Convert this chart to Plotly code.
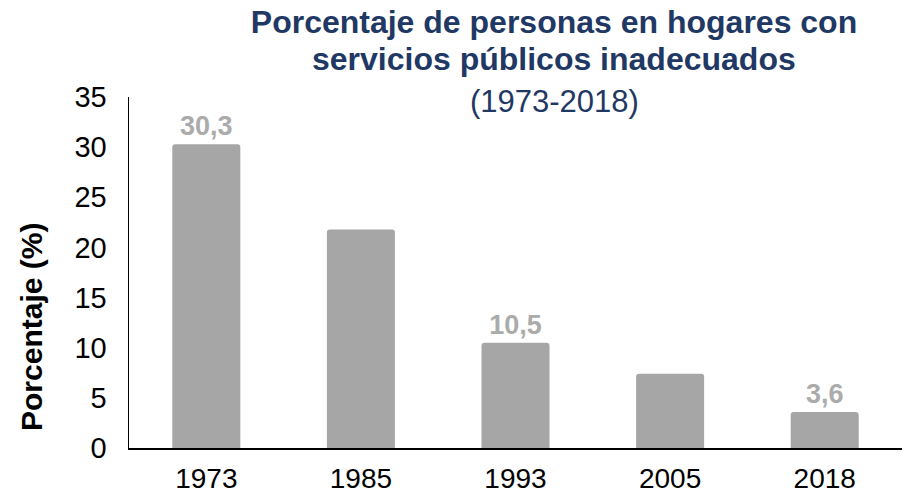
import plotly.graph_objects as go

years = ["1973", "1985", "1993", "2005", "2018"]
values = [30.3, 21.8, 10.5, 7.4, 3.6]
labels = ["30,3", "", "10,5", "", "3,6"]
y_ticks = [0, 5, 10, 15, 20, 25, 30, 35]

W, H = 909, 494
L, R, T, B = 129, 7, 97, 46
PW, PH = W - L - R, H - T - B
FONT = "Liberation Sans, Arial"
NAVY = "#1F3864"


def px_x(px):
    return (px - L) / PW


def px_y(py):
    return (H - B - py) / PH


fig = go.Figure()
fig.add_trace(go.Bar(
    x=years, y=values, text=labels,
    textposition="outside", cliponaxis=False,
    textfont=dict(family=FONT, size=27, color="#ABABAB", weight="bold"),
    marker=dict(color="#A6A6A6", line=dict(width=0), cornerradius=3),
    hoverinfo="skip",
))

fig.update_layout(
    width=W, height=H,
    margin=dict(l=L, r=R, t=T, b=B, autoexpand=False),
    paper_bgcolor="white", plot_bgcolor="white",
    bargap=0.56,
    showlegend=False,
    font=dict(family=FONT, color="black"),
    title=dict(
        text="<b>Porcentaje de personas en hogares con</b>",
        xref="container", yref="container",
        x=554 / W, xanchor="center",
        y=1 - 22 / H, yanchor="middle",
        font=dict(family=FONT, size=32, color=NAVY),
    ),
    xaxis=dict(
        type="category", automargin=False,
        showline=True, linecolor="black", linewidth=1.5,
        ticks="", showgrid=False,
        tickfont=dict(size=28, color="black"),
        ticklabelstandoff=5,
    ),
    yaxis=dict(
        range=[0, 35], tickvals=y_ticks, automargin=False,
        showline=True, linecolor="black", linewidth=1.5,
        ticks="", showgrid=False, zeroline=False,
        tickfont=dict(size=29, color="black"),
        ticklabelstandoff=15,
    ),
    annotations=[
        dict(
            text="<b>servicios públicos inadecuados</b>",
            xref="paper", yref="paper", x=px_x(554), y=px_y(59),
            xanchor="center", yanchor="middle", showarrow=False,
            font=dict(family=FONT, size=32, color=NAVY),
        ),
        dict(
            text="(1973-2018)",
            xref="paper", yref="paper", x=px_x(554), y=px_y(101),
            xanchor="center", yanchor="middle", showarrow=False,
            font=dict(family=FONT, size=31, color=NAVY),
        ),
        dict(
            text="<b>Porcentaje (%)</b>",
            xref="paper", yref="paper", x=px_x(31), y=px_y(327),
            xanchor="center", yanchor="middle",
            textangle=-90, showarrow=False,
            font=dict(family=FONT, size=30, color="black"),
        ),
    ],
)

fig.write_html(
    "out.html",
    config={"displayModeBar": False, "staticPlot": True},
    post_script="document.body.style.margin='0';document.body.style.overflow='hidden';",
)
